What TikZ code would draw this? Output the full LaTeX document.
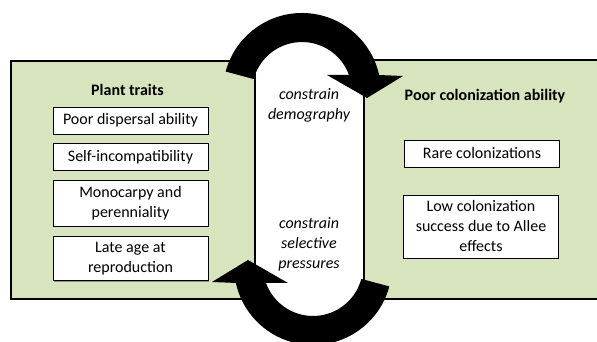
\documentclass[tikz,border=0pt]{standalone}
\usepackage{fontspec}
\setmainfont{Carlito}
\usetikzlibrary{positioning,shadows}
\definecolor{panelgreen}{HTML}{D7E4BD}
\newcommand{\diagfont}{\fontsize{12}{15}\selectfont}
\newcommand{\bentarrow}{%
  \fill (302,250) ++(165:50) -- ++(165:29)
    arc[start angle=165, end angle=12.4, radius=79]
    -- (403,266) -- (367,244) -- (327,267) -- (349,267)
    arc[start angle=19.9, end angle=165, radius=50] -- cycle;
}

\begin{document}
\begin{tikzpicture}[
    x=0.75pt, y=0.75pt,
    panel/.style={draw, line width=1.1pt, fill=panelgreen},
    trait/.style={draw, fill=white, minimum width=116pt, minimum height=20pt, inner ysep=4.5pt, align=center,
      drop shadow={shadow xshift=0.8pt, shadow yshift=-0.8pt, fill=black, opacity=0.35}},
    heading/.style={font=\diagfont\bfseries},
    effect/.style={font=\diagfont\itshape, align=center},
    font=\diagfont, node distance=7pt
]
\clip (0,0) rectangle (597,342);

% Panels
\draw[panel] (11,43) rectangle (255,281);
\draw[panel] (364,43) rectangle (610,282);

% Nodes
\node[heading] (plant) at (127.5,252) {Plant traits};
\node[trait] (dispersal) at (130.5,221.5) {Poor dispersal ability};
\node[trait, below=of dispersal] (selfinc) {Self-incompatibility};
\node[trait, below=of selfinc] (monocarpy) {Monocarpy and\\perenniality};
\node[trait, below=of monocarpy] (lateage) {Late age at\\reproduction};

\node[heading] (colon) at (485,246) {Poor colonization ability};
\node[trait] (rare) at (482,188.5) {Rare colonizations};
\node[trait] (allee) at (481,115.5) {Low colonization\\success due to Allee\\effects};

\node[effect] (demog) at (309,237) {constrain\\demography};
\node[effect] (select) at (309,98) {constrain\\selective\\pressures};

% Bent arrows
\bentarrow
\begin{scope}[rotate around={180:(307.5,163)}]
  \bentarrow
\end{scope}

\end{tikzpicture}
\end{document}
